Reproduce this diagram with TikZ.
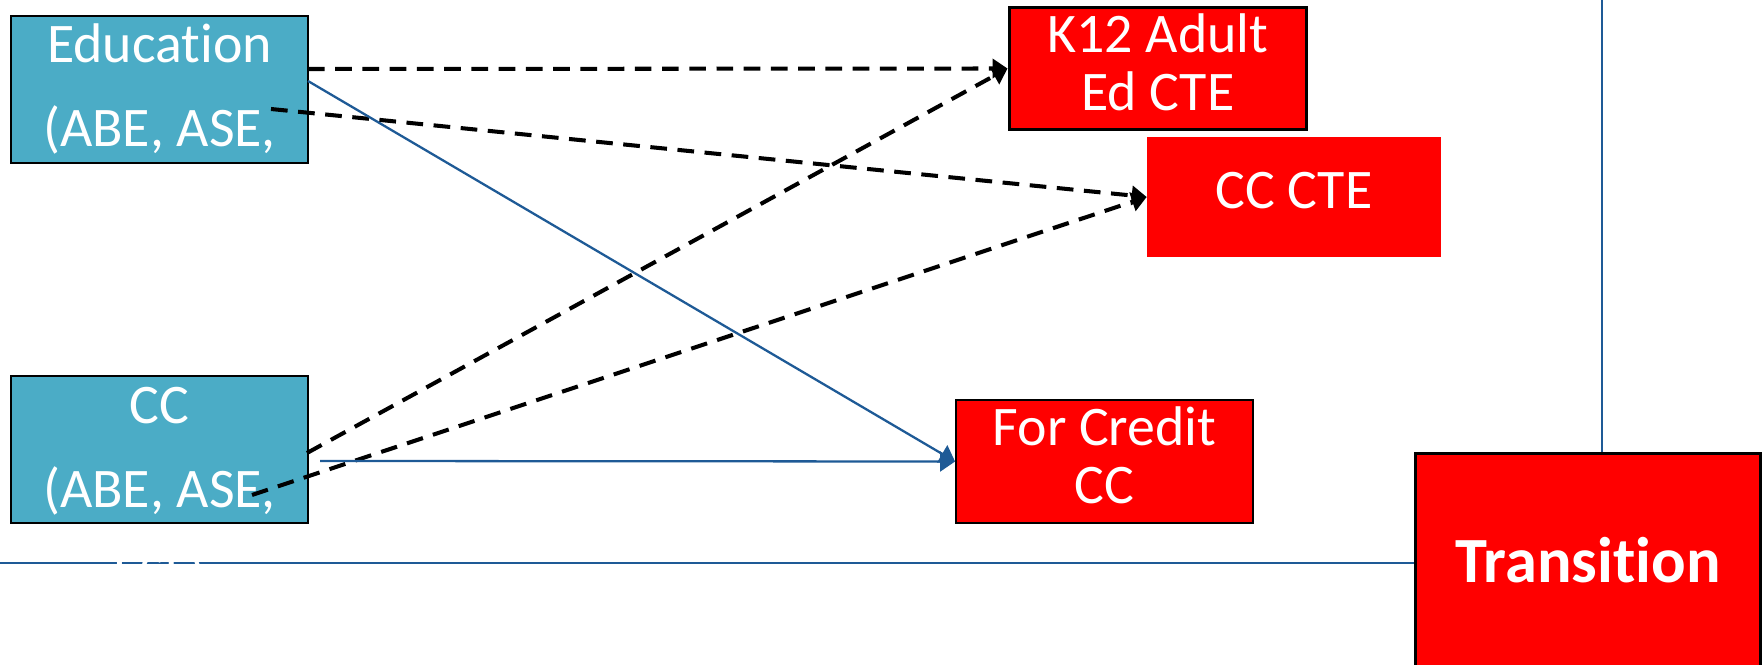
\documentclass[tikz,border=0pt]{standalone}
\usepackage{fontspec}
\setmainfont{Carlito}[Ligatures=NoCommon]
\usetikzlibrary{arrows.meta,calc}
\definecolor{boxblue}{HTML}{4BACC6}
\definecolor{boxred}{HTML}{FF0000}
\definecolor{linkblue}{RGB}{30,90,150}

\begin{document}
\begin{tikzpicture}[
        x=0.02cm, y=-0.02cm,
        srcbox/.style={
            rectangle, draw=black, line width=1.1pt, fill=boxblue,
            minimum width=5.94cm, minimum height=2.94cm, inner sep=0pt
        },
        srctext/.style={
            anchor=base, align=center, inner sep=0pt, text=white,
            font=\fontsize{31.8}{48}\selectfont
        },
        dstbox/.style={
            rectangle, fill=boxred, align=center, inner sep=0pt, text=white,
            font=\fontsize{31.8}{33}\selectfont,
            execute at end node={\rule[-0.24em]{0pt}{0pt}}
        },
        arr/.style={-{Triangle[length=0.3cm,width=0.4cm]}, line width=1.3pt, draw=linkblue},
        darr/.style={-{Triangle[length=0.3cm,width=0.38cm]}, line width=2.3pt,
            dash pattern=on 9.5pt off 6pt, draw=black},
        divider/.style={line width=1.3pt, draw=linkblue}
    ]
    \useasboundingbox (0,0) rectangle (1764,665);
    \clip (0,0) rectangle (1764,665);

    % Transition and dividers
    \node[rectangle, draw=black, line width=1.7pt, fill=boxred, text=white,
        minimum width=6.92cm, minimum height=4.3cm, inner sep=0pt,
        font=\fontsize{36.7}{40}\selectfont\bfseries] (trans) at (1588,560.5) {Transition};
    \coordinate (hl) at (0,563);
    \coordinate (vl) at (1602,0);
    \draw[divider] (hl) -- (hl -| trans.west);
    \draw[divider] (vl) -- (vl |- trans.north);

    % Sources (base = last line)
    \node[srcbox] (edu) at (159.5,89.5) {};
    \node[srctext] (edutxt) at (159.5,147) {Education\\(ABE, ASE,};
    \node[srcbox] (cc) at (159.5,449.5) {};
    \node[srctext] (cctxt) at (159.5,592) {CC\\(ABE, ASE,\\ESL)};

    % Targets
    \node[dstbox, draw=black, line width=1.7pt, minimum width=5.96cm, minimum height=2.46cm]
        (k12) at (1158,68.5) {K12 Adult\\Ed CTE};
    \node[dstbox, minimum width=5.88cm, minimum height=2.4cm]
        (cccte) at (1294,197) {CC CTE};
    \node[dstbox, draw=black, line width=1.1pt, minimum width=5.94cm, minimum height=2.46cm]
        (credit) at (1104.5,461.5) {For Credit\\CC};

    % Start points
    \coordinate (e1) at (308,69);
    \coordinate (e2) at (271,109);
    \coordinate (e3) at (308,81);
    \coordinate (c1) at (307,453);
    \coordinate (c2) at (252,495);
    \coordinate (c3) at (320,461);

    % Arrows
    \draw[darr] (e1) -- (k12.west);
    \draw[darr] (e2) -- (cccte.west);
    \draw[arr] (e3) -- (credit.west);
    \draw[darr] (c1) -- (k12.west);
    \draw[darr] (c2) -- (cccte.west);
    \draw[arr] (c3) -- (credit.west);
\end{tikzpicture}
\end{document}
